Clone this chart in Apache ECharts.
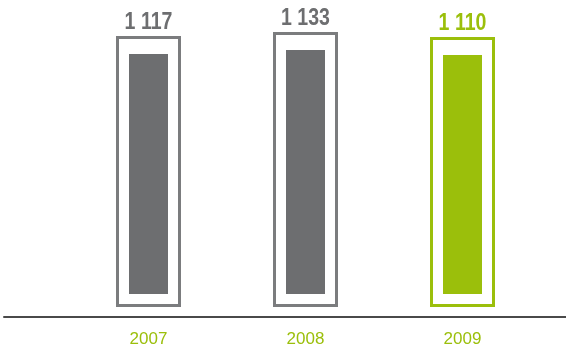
<!DOCTYPE html>
<html>
<head>
<meta charset="utf-8">
<script src="https://cdn.jsdelivr.net/npm/echarts@6/dist/echarts.min.js"></script>
<style>
html,body{margin:0;padding:0;background:#fff;}
#c{width:566px;height:350px;}
</style>
</head>
<body>
<div id="c"></div>
<script>
// Data
const categories = ['2007', '2008', '2009'];
const values = [1117, 1133, 1110];

// Styles
const GRAY = '#6d6e70';
const GRAY_OUTLINE = '#7b7c7e';
const GREEN = '#9bbf0b';
const barColors = [GRAY, GRAY, GREEN];
const outlineColors = [GRAY_OUTLINE, GRAY_OUTLINE, GREEN];
const FONT = '"Liberation Sans", Arial, sans-serif';

function fmt(v) {
  return String(v).replace(/\B(?=(\d{3})+(?!\d))/g, ' ');
}

const chart = echarts.init(document.getElementById('c'), null, {renderer: 'canvas'});

chart.setOption({
  animation: false,
  backgroundColor: '#fff',
  grid: [
    {left: 70, right: 25, top: 36, bottom: 56},
    {left: 4, right: 0, top: 316, bottom: 33}
  ],
  xAxis: [
    {
      type: 'category', gridIndex: 0, data: categories,
      axisLine: {show: false}, axisTick: {show: false},
      axisLabel: {color: GREEN, fontFamily: FONT, fontSize: 17, margin: 37}
    },
    {
      type: 'value', gridIndex: 1, min: 0, max: 1,
      axisLine: {show: true, lineStyle: {color: '#4a4a4a', width: 2}},
      axisTick: {show: false}, axisLabel: {show: false}, splitLine: {show: false}
    }
  ],
  yAxis: [
    {type: 'value', gridIndex: 0, min: 0, max: 1200, show: false, splitLine: {show: false}},
    {type: 'value', gridIndex: 1, show: false, splitLine: {show: false}}
  ],
  series: [{
    type: 'custom',
    xAxisIndex: 0, yAxisIndex: 0,
    data: values.map((v, i) => [i, v]),
    renderItem: function (params, api) {
      const i = api.value(0);
      const v = api.value(1);
      const top = api.coord([i, v]);
      const base = api.coord([i, 0]);
      const bw = Math.round(api.size([1, 0])[0] * 0.25);
      const cx = top[0];
      const left = Math.round(cx - bw / 2);
      const t = Math.round(top[1]);
      const b = Math.round(base[1]);
      return {
        type: 'group',
        children: [
          {
            type: 'rect',
            shape: {x: left - 11.5, y: t - 16.5, width: bw + 23, height: (b - t) + 28},
            style: {fill: 'none', stroke: outlineColors[i], lineWidth: 3}
          },
          {
            type: 'rect',
            shape: {x: left, y: t, width: bw, height: b - t},
            style: {fill: barColors[i]}
          },
          {
            type: 'text',
            x: cx, y: t - 31,
            scaleX: 0.85,
            style: {
              text: fmt(v), x: 0, y: 0,
              align: 'center', verticalAlign: 'middle',
              fill: barColors[i],
              font: 'bold 23px ' + FONT
            }
          }
        ]
      };
    }
  }]
});
</script>
</body>
</html>
